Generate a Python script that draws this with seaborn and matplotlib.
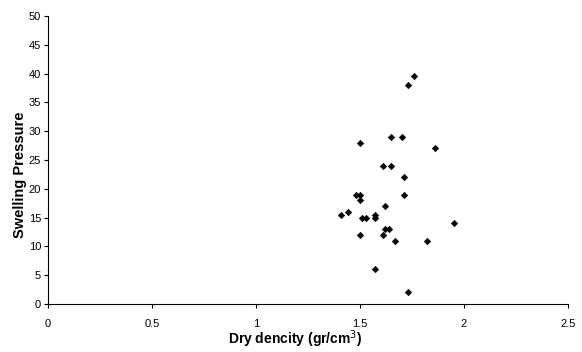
import matplotlib
matplotlib.use("Agg")
import matplotlib.pyplot as plt
import seaborn as sns
import pandas as pd

dry_density = [1.76, 1.73, 1.65, 1.70, 1.50, 1.86, 1.61, 1.65, 1.71,
               1.48, 1.50, 1.50, 1.71, 1.62, 1.41, 1.44, 1.51, 1.53,
               1.57, 1.57, 1.95, 1.62, 1.64, 1.50, 1.61, 1.67, 1.82,
               1.57, 1.73]
swelling_pressure = [39.5, 38.0, 29.0, 29.0, 28.0, 27.0, 24.0, 24.0, 22.0,
                     19.0, 19.0, 18.0, 19.0, 17.0, 15.5, 16.0, 15.0, 15.0,
                     15.5, 15.0, 14.0, 13.0, 13.0, 12.0, 12.0, 11.0, 11.0,
                     6.0, 2.0]
x_ticks = [0, 0.5, 1, 1.5, 2, 2.5]
x_tick_labels = ["0", "0.5", "1", "1.5", "2", "2.5"]
y_ticks = [0, 5, 10, 15, 20, 25, 30, 35, 40, 45, 50]

df = pd.DataFrame({"x": dry_density, "y": swelling_pressure})

sns.set_style("white")
plt.rcParams['font.family'] = ['Liberation Sans', 'DejaVu Sans']
plt.rcParams['text.color'] = 'black'
plt.rcParams['axes.labelcolor'] = 'black'

fig = plt.figure(figsize=(5.82, 3.52), dpi=100)
ax = fig.add_axes([48/582, 1-304/352, 520/582, 288/352])

sns.scatterplot(data=df, x="x", y="y", ax=ax, marker="D", s=11,
                color="black", edgecolor="black", linewidth=0.4)

ax.set_xlim(0, 2.5)
ax.set_ylim(0, 50)
ax.set_xticks(x_ticks)
ax.set_xticklabels(x_tick_labels)
ax.set_yticks(y_ticks)
ax.tick_params(axis="both", direction="out", length=3, width=0.8,
               labelsize=8, colors="black", bottom=True, left=True, pad=8)
ax.tick_params(axis="y", pad=2)
for s in ["top", "right"]:
    ax.spines[s].set_visible(False)
for s in ["left", "bottom"]:
    ax.spines[s].set_color("black")
    ax.spines[s].set_linewidth(0.8)

ax.set_xlabel("Dry dencity (gr/cm$^{3}$)", fontsize=10, fontweight="bold", color="black")
ax.set_ylabel("Swelling Pressure", fontsize=10.5, fontweight="bold", color="black")
ax.xaxis.set_label_coords(0.475, -0.085)
ax.yaxis.set_label_coords(-0.04, 0.45)
ax.grid(False)

fig.savefig("out.png", dpi=100)
